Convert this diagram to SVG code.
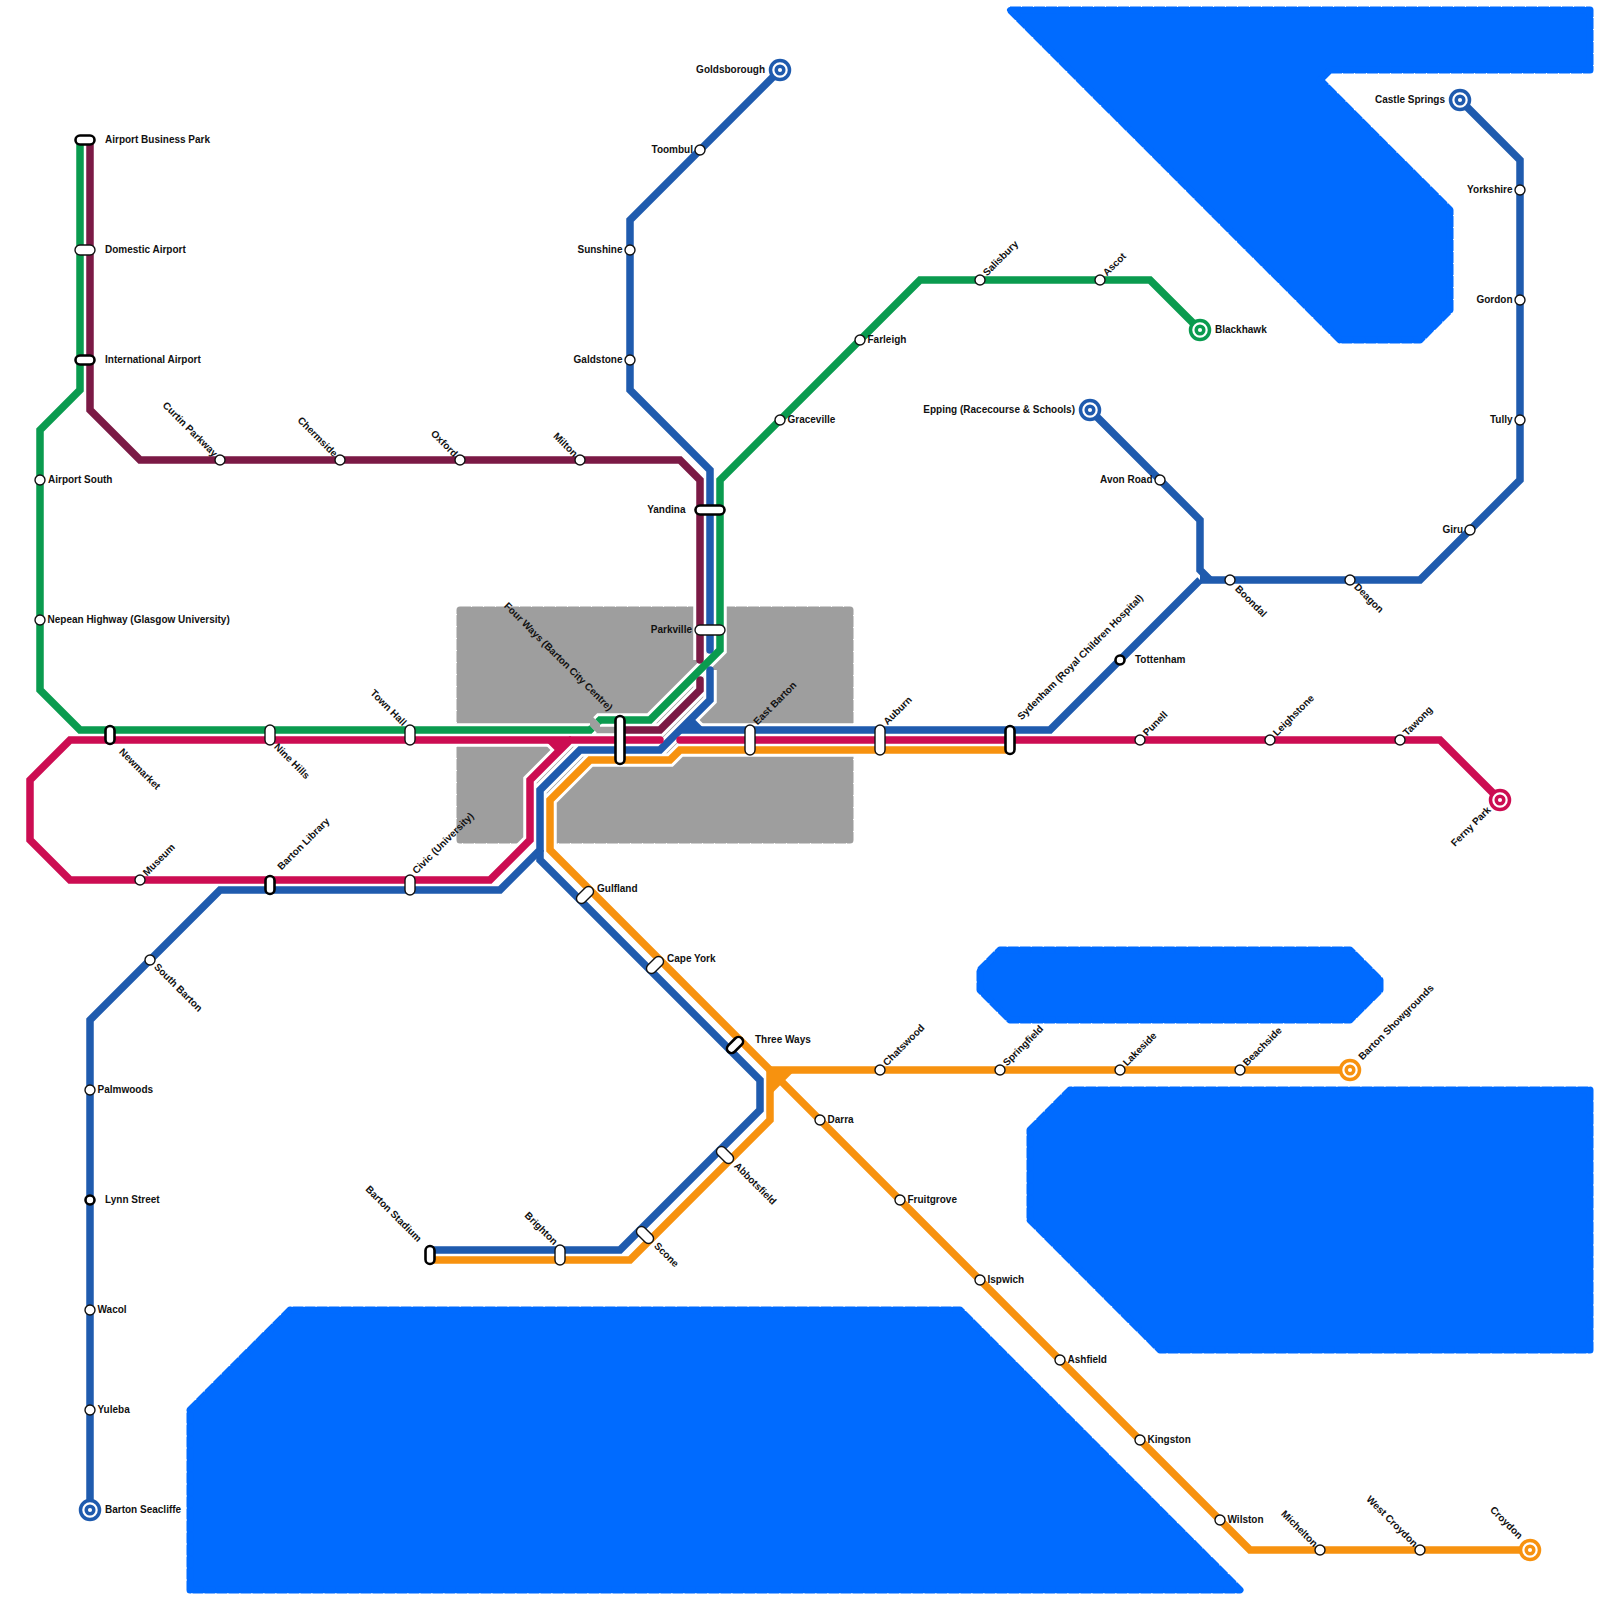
<svg xmlns="http://www.w3.org/2000/svg" width="1600" height="1600" viewBox="0 0 1600 1600">
<style>
.wb{fill:#006bff;stroke:#006bff;stroke-width:6;stroke-linejoin:round}
.wd{fill:none;stroke:#006bff;stroke-width:7;stroke-linejoin:round;stroke-dasharray:11 1}
.gb{fill:#9e9e9e;stroke:#9e9e9e;stroke-width:6;stroke-linejoin:round}
.gd{fill:none;stroke:#9e9e9e;stroke-width:7;stroke-linejoin:round;stroke-dasharray:11 1}
.c path{fill:none;stroke:#fff;stroke-width:13.5;stroke-linejoin:miter}
.l path{fill:none;stroke-width:7.5;stroke-linejoin:miter}
.j path{stroke:none}
.bl{stroke:#1f5bae}.gr{stroke:#0a9b4f}.pi{stroke:#cc0d52}.ma{stroke:#7b1a45}.or{stroke:#f7920f}
.l .rc{stroke-linecap:round}
.n{fill:#fff;stroke:#111;stroke-width:1.4}
.k{fill:#fff;stroke:#000;stroke-width:2.6}
.r{stroke-width:3.5;fill:#fff}
text{font-family:"Liberation Sans",Arial,sans-serif;font-size:10px;font-weight:700;fill:#111;dominant-baseline:central}
.e{text-anchor:end}
</style>
<defs>
<path id="w1" d="M1010 10H1590V70H1330L1320 80L1450 210V310L1420 340H1340Z"/>
<path id="w2" d="M190 1410L290 1310H960L1240 1590H190Z"/>
<path id="w3" d="M1030 1130L1070 1090H1590V1350H1160L1030 1220Z"/>
<path id="w4" d="M980 970L1000 950H1350L1380 980V990L1350 1020H1010L980 990Z"/>
<path id="g1" d="M460 610H850V840H460Z"/>
</defs>
<g id="water">
<use href="#w1" class="wb"/><use href="#w1" class="wd"/>
<use href="#w2" class="wb"/><use href="#w2" class="wd"/>
<use href="#w3" class="wb"/><use href="#w3" class="wd"/>
<use href="#w4" class="wb"/><use href="#w4" class="wd"/>
</g>
<g id="city"><use href="#g1" class="gb"/><use href="#g1" class="gd"/></g>
<g id="connectors">
<g class="c">
<path d="M780 70L630 220V390L710 470V650"/>
<path d="M710 670V700L660 750H580L540 790V850L500 890H220L90 1020V1510"/>
<path d="M1460 100L1520 160V480L1420 580H1200"/>
<path d="M1090 410L1200 520V570L1210 580"/>
<path d="M1200 580L1050 730H680"/>
<path d="M690 720L700 730"/>
<path d="M540 850V860L760 1080V1110L620 1250H430"/>
<path d="M80 140V390L40 430V690L80 730H590L592 728"/>
<path d="M598 722L600 720H650L720 650V480L920 280H1150L1200 330"/>
<path d="M90 140V410L140 460H680L700 480V660"/>
<path d="M700 680V690L660 730H620"/>
<path d="M1500 800L1440 740H680"/>
<path d="M660 740H70L30 780V840L70 880H490L530 840V780L570 740"/>
<path d="M550 740L560 750"/>
<path d="M1010 750H680L670 760H590L550 800V850L1250 1550H1530"/>
<path d="M1350 1070H770V1120L630 1260H430"/>
<path d="M770 1090L790 1070"/>
</g>
<g class="l">
<path class="ma rc" d="M90 140V410L140 460H680L700 480V660"/>
<path class="ma rc" d="M700 680V690L660 730H620"/>
<path class="bl rc" d="M780 70L630 220V390L710 470V650"/>
<path class="bl rc" d="M710 670V700L660 750H580L540 790V850L500 890H220L90 1020V1510"/>
<path class="bl" d="M1460 100L1520 160V480L1420 580H1200"/>
<path class="bl" d="M1090 410L1200 520V570L1210 580"/>
<path class="bl" d="M1200 580L1050 730H680"/>
<path class="bl" d="M690 720L700 730"/>
<path class="bl" d="M540 850V860L760 1080V1110L620 1250H430"/>
<path class="gr" d="M80 140V390L40 430V690L80 730H590L592 728"/>
<path class="gr" d="M598 722L600 720H650L720 650V480L920 280H1150L1200 330"/>
<path class="pi rc" d="M1500 800L1440 740H680"/>
<path class="pi rc" d="M660 740H70L30 780V840L70 880H490L530 840V780L570 740"/>
<path class="pi" d="M550 740L560 750"/>
<path class="or" d="M1010 750H680L670 760H590L550 800V850L1250 1550H1530"/>
<path class="or" d="M1350 1070H770V1120L630 1260H430"/>
<path class="or" d="M770 1090L790 1070"/>
</g>
<g class="j">
<path fill="#f7920f" d="M770 1070H790L770 1090Z"/>
<path fill="#1f5bae" d="M680 730L690 720L700 730Z"/>
<path fill="#1f5bae" d="M1200 570L1210 580H1200Z"/>
<path fill="#cc0d52" d="M550 740H570L560 750Z"/>
<path fill="#1f5bae" d="M540 850V860L535 855Z"/>
</g>
</g>
<g id="stations">
<g id="airport-business-park"><rect class="k" x="75.500" y="135.500" width="19" height="9" rx="4.500"/><text x="105" y="139">Airport Business Park</text></g>
<g id="domestic-airport"><rect class="n" x="75" y="245" width="20" height="10" rx="5"/><text x="105" y="249">Domestic Airport</text></g>
<g id="international-airport"><rect class="k" x="75.500" y="355.500" width="19" height="9" rx="4.500"/><text x="105" y="359">International Airport</text></g>
<g id="airport-south"><circle class="n" cx="40" cy="480" r="5"/><text x="48" y="479">Airport South</text></g>
<g id="nepean"><circle class="n" cx="40" cy="620" r="5"/><text x="47.500" y="619">Nepean Highway (Glasgow University)</text></g>
<g id="newmarket"><rect class="k" x="105.500" y="726" width="9" height="18" rx="4.500"/><text transform="translate(121 750) rotate(45)">Newmarket</text></g>
<g id="nine-hills"><rect class="n" x="265" y="725" width="10" height="20" rx="5"/><text transform="translate(276 745) rotate(45)">Nine Hills</text></g>
<g id="town-hall"><rect class="n" x="405" y="725" width="10" height="20" rx="5"/><text class="e" transform="translate(405 724) rotate(45)">Town Hall</text></g>
<g id="four-ways"><rect class="k" x="615.500" y="716" width="9" height="48" rx="4.500"/><text class="e" transform="translate(611 709) rotate(45)">Four Ways (Barton City Centre)</text></g>
<g id="east-barton"><rect class="n" x="745" y="725" width="10" height="30" rx="5"/><text transform="translate(755 723) rotate(-45)">East Barton</text></g>
<g id="auburn"><rect class="n" x="875" y="725" width="10" height="30" rx="5"/><text transform="translate(885 723) rotate(-45)">Auburn</text></g>
<g id="sydenham"><rect class="k" x="1005.500" y="726" width="9" height="28" rx="4.500"/><text transform="translate(1019 718) rotate(-45)">Sydenham (Royal Children Hospital)</text></g>
<g id="punell"><circle class="n" cx="1140" cy="740" r="5"/><text transform="translate(1144.500 734) rotate(-45)">Punell</text></g>
<g id="leighstone"><circle class="n" cx="1270" cy="740" r="5"/><text transform="translate(1274.500 734) rotate(-45)">Leighstone</text></g>
<g id="tawong"><circle class="n" cx="1400" cy="740" r="5"/><text transform="translate(1404.500 734) rotate(-45)">Tawong</text></g>
<g id="ferny-park"><circle class="r pi" cx="1500" cy="800" r="9.500"/><circle class="r pi" cx="1500" cy="800" r="3.800"/><text class="e" transform="translate(1489 808) rotate(-45)">Ferny Park</text></g>
<g id="museum"><circle class="n" cx="140" cy="880" r="5"/><text transform="translate(144.500 874) rotate(-45)">Museum</text></g>
<g id="barton-library"><rect class="k" x="265.500" y="876" width="9" height="18" rx="4.500"/><text transform="translate(279 868) rotate(-45)">Barton Library</text></g>
<g id="civic"><rect class="n" x="405" y="875" width="10" height="20" rx="5"/><text transform="translate(414 872) rotate(-45)">Civic (University)</text></g>
<g id="curtin-parkway"><circle class="n" cx="220" cy="460" r="5"/><text class="e" transform="translate(216 455) rotate(45)">Curtin Parkway</text></g>
<g id="chermside"><circle class="n" cx="340" cy="460" r="5"/><text class="e" transform="translate(336 455) rotate(45)">Chermside</text></g>
<g id="oxford"><circle class="n" cx="460" cy="460" r="5"/><text class="e" transform="translate(456 455) rotate(45)">Oxford</text></g>
<g id="milton"><circle class="n" cx="580" cy="460" r="5"/><text class="e" transform="translate(576 455) rotate(45)">Milton</text></g>
<g id="goldsborough"><circle class="r bl" cx="780" cy="70" r="9.500"/><circle class="r bl" cx="780" cy="70" r="3.800"/><text class="e" x="765" y="69">Goldsborough</text></g>
<g id="toombul"><circle class="n" cx="700" cy="150" r="5"/><text class="e" x="693" y="149">Toombul</text></g>
<g id="sunshine"><circle class="n" cx="630" cy="250" r="5"/><text class="e" x="622.500" y="249">Sunshine</text></g>
<g id="galdstone"><circle class="n" cx="630" cy="360" r="5"/><text class="e" x="622.500" y="359">Galdstone</text></g>
<g id="yandina"><rect class="k" x="695.500" y="505.500" width="29" height="9" rx="4.500"/><text class="e" x="685.500" y="509">Yandina</text></g>
<g id="parkville"><rect class="n" x="695" y="625" width="30" height="10" rx="5"/><text class="e" x="692" y="629">Parkville</text></g>
<g id="graceville"><circle class="n" cx="780" cy="420" r="5"/><text x="787.500" y="419">Graceville</text></g>
<g id="farleigh"><circle class="n" cx="860" cy="340" r="5"/><text x="867.500" y="339">Farleigh</text></g>
<g id="salisbury"><circle class="n" cx="980" cy="280" r="5"/><text transform="translate(984.500 274) rotate(-45)">Salisbury</text></g>
<g id="ascot"><circle class="n" cx="1100" cy="280" r="5"/><text transform="translate(1104.500 274) rotate(-45)">Ascot</text></g>
<g id="blackhawk"><circle class="r gr" cx="1200" cy="330" r="9.500"/><circle class="r gr" cx="1200" cy="330" r="3.800"/><text x="1215" y="329">Blackhawk</text></g>
<g id="epping"><circle class="r bl" cx="1090" cy="410" r="9.500"/><circle class="r bl" cx="1090" cy="410" r="3.800"/><text class="e" x="1075" y="409">Epping (Racecourse &amp; Schools)</text></g>
<g id="avon-road"><circle class="n" cx="1160" cy="480" r="5"/><text class="e" x="1152.500" y="479">Avon Road</text></g>
<g id="boondal"><circle class="n" cx="1230" cy="580" r="5"/><text transform="translate(1237 587) rotate(45)">Boondal</text></g>
<g id="deagon"><circle class="n" cx="1350" cy="580" r="5"/><text transform="translate(1356 585) rotate(45)">Deagon</text></g>
<g id="giru"><circle class="n" cx="1470" cy="530" r="5"/><text class="e" x="1463" y="529">Giru</text></g>
<g id="tully"><circle class="n" cx="1520" cy="420" r="5"/><text class="e" x="1512.500" y="419">Tully</text></g>
<g id="gordon"><circle class="n" cx="1520" cy="300" r="5"/><text class="e" x="1512.500" y="299">Gordon</text></g>
<g id="yorkshire"><circle class="n" cx="1520" cy="190" r="5"/><text class="e" x="1512.500" y="189">Yorkshire</text></g>
<g id="castle-springs"><circle class="r bl" cx="1460" cy="100" r="9.500"/><circle class="r bl" cx="1460" cy="100" r="3.800"/><text class="e" x="1445" y="99">Castle Springs</text></g>
<g id="tottenham"><circle class="k" cx="1120" cy="660" r="4.500"/><text x="1135" y="659">Tottenham</text></g>
<g id="south-barton"><circle class="n" cx="150" cy="960" r="5"/><text transform="translate(156 965) rotate(45)">South Barton</text></g>
<g id="palmwoods"><circle class="n" cx="90" cy="1090" r="5"/><text x="97.500" y="1089">Palmwoods</text></g>
<g id="lynn-street"><circle class="k" cx="90" cy="1200" r="4.500"/><text x="105" y="1199">Lynn Street</text></g>
<g id="wacol"><circle class="n" cx="90" cy="1310" r="5"/><text x="97.500" y="1309">Wacol</text></g>
<g id="yuleba"><circle class="n" cx="90" cy="1410" r="5"/><text x="97.500" y="1409">Yuleba</text></g>
<g id="barton-seacliffe"><circle class="r bl" cx="90" cy="1510" r="9.500"/><circle class="r bl" cx="90" cy="1510" r="3.800"/><text x="105" y="1509">Barton Seacliffe</text></g>
<g id="gulfland"><rect class="n" x="575" y="890" width="20" height="10" rx="5" transform="rotate(-45 585 895)"/><text x="597" y="888">Gulfland</text></g>
<g id="cape-york"><rect class="n" x="645" y="960" width="20" height="10" rx="5" transform="rotate(-45 655 965)"/><text x="667" y="958.500">Cape York</text></g>
<g id="three-ways"><rect class="k" x="725.500" y="1040.500" width="19" height="9" rx="4.500" transform="rotate(-45 735 1045)"/><text x="755" y="1039">Three Ways</text></g>
<g id="abbotsfield"><rect class="n" x="715" y="1150" width="20" height="10" rx="5" transform="rotate(45 725 1155)"/><text transform="translate(736 1164) rotate(45)">Abbotsfield</text></g>
<g id="scone"><rect class="n" x="635" y="1230" width="20" height="10" rx="5" transform="rotate(45 645 1235)"/><text transform="translate(656 1244) rotate(45)">Scone</text></g>
<g id="brighton"><rect class="n" x="555" y="1245" width="10" height="20" rx="5"/><text class="e" transform="translate(556 1243) rotate(45)">Brighton</text></g>
<g id="barton-stadium"><rect class="k" x="425.500" y="1246" width="9" height="18" rx="4.500"/><text class="e" transform="translate(420 1240) rotate(45)">Barton Stadium</text></g>
<g id="darra"><circle class="n" cx="820" cy="1120" r="5"/><text x="827.500" y="1119">Darra</text></g>
<g id="fruitgrove"><circle class="n" cx="900" cy="1200" r="5"/><text x="907.500" y="1199">Fruitgrove</text></g>
<g id="ispwich"><circle class="n" cx="980" cy="1280" r="5"/><text x="987.500" y="1279">Ispwich</text></g>
<g id="ashfield"><circle class="n" cx="1060" cy="1360" r="5"/><text x="1067.500" y="1359">Ashfield</text></g>
<g id="kingston"><circle class="n" cx="1140" cy="1440" r="5"/><text x="1147.500" y="1439">Kingston</text></g>
<g id="wilston"><circle class="n" cx="1220" cy="1520" r="5"/><text x="1227.500" y="1519">Wilston</text></g>
<g id="michelton"><circle class="n" cx="1320" cy="1550" r="5"/><text class="e" transform="translate(1316 1545) rotate(45)">Michelton</text></g>
<g id="west-croydon"><circle class="n" cx="1420" cy="1550" r="5"/><text class="e" transform="translate(1416 1545) rotate(45)">West Croydon</text></g>
<g id="croydon"><circle class="r or" cx="1530" cy="1550" r="9.500"/><circle class="r or" cx="1530" cy="1550" r="3.800"/><text class="e" transform="translate(1521 1537) rotate(45)">Croydon</text></g>
<g id="chatswood"><circle class="n" cx="880" cy="1070" r="5"/><text transform="translate(884.500 1064) rotate(-45)">Chatswood</text></g>
<g id="springfield"><circle class="n" cx="1000" cy="1070" r="5"/><text transform="translate(1004.500 1064) rotate(-45)">Springfield</text></g>
<g id="lakeside"><circle class="n" cx="1120" cy="1070" r="5"/><text transform="translate(1124.500 1064) rotate(-45)">Lakeside</text></g>
<g id="beachside"><circle class="n" cx="1240" cy="1070" r="5"/><text transform="translate(1244.500 1064) rotate(-45)">Beachside</text></g>
<g id="barton-showgrounds"><circle class="r or" cx="1350" cy="1070" r="9.500"/><circle class="r or" cx="1350" cy="1070" r="3.800"/><text transform="translate(1360 1058) rotate(-45)">Barton Showgrounds</text></g>
</g>
</svg>
